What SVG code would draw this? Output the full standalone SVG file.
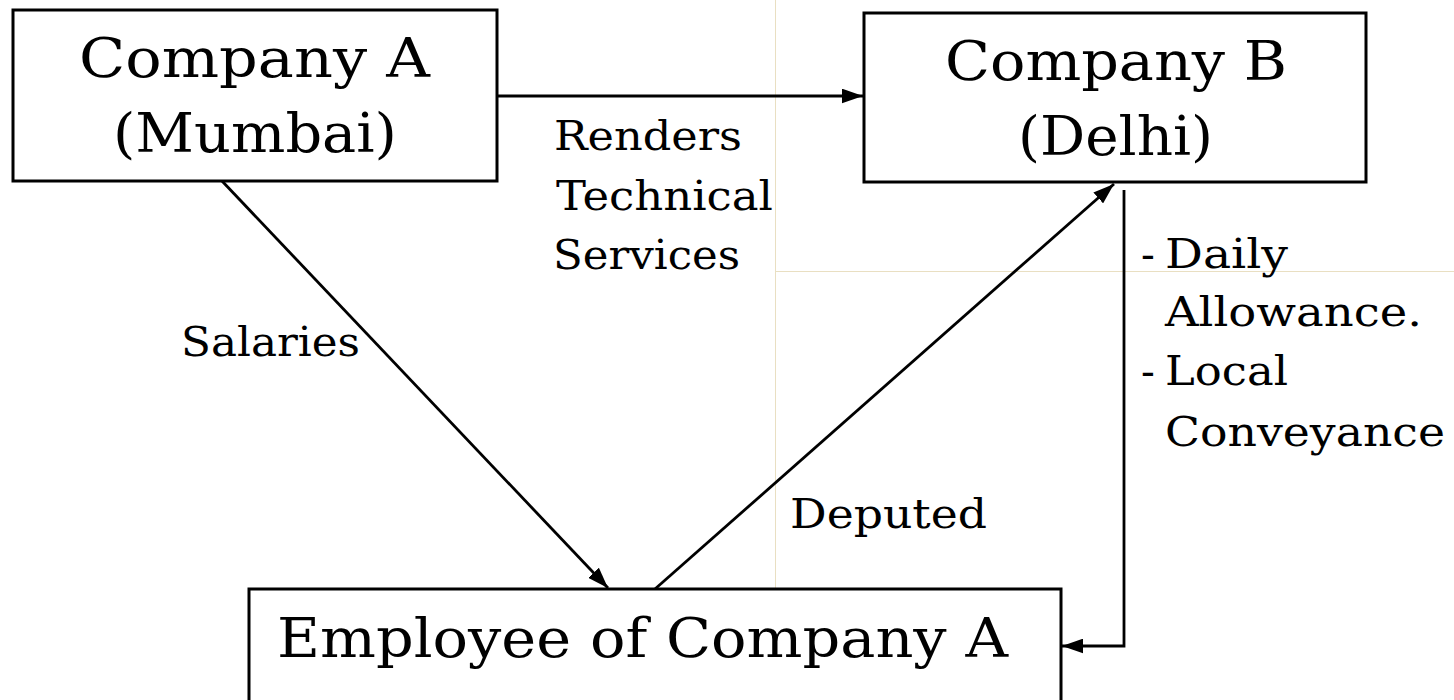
<svg xmlns="http://www.w3.org/2000/svg" width="1454" height="700" viewBox="0 0 1454 700">
<style>
.box{fill:#fff;stroke:#000;stroke-width:3}
.t{font-family:"DejaVu Serif","Liberation Serif",serif;fill:#000}
.big{font-size:54px}
.lbl{font-size:41px}
.con{stroke:#000;stroke-width:2.8;fill:none}
.guide{stroke:#e9dfc2;stroke-width:1}
</style>
<defs>
<marker id="ah" viewBox="0 0 20 14" refX="20" refY="7" markerWidth="21" markerHeight="15" markerUnits="userSpaceOnUse" orient="auto">
<path d="M0,0 L20,7 L0,14 Z" fill="#000"/>
</marker>
</defs>
<rect width="1454" height="700" fill="#fff"/>
<g id="guides">
<line class="guide" x1="775.5" y1="0" x2="775.5" y2="700"/>
<line class="guide" x1="776" y1="271.5" x2="1454" y2="271.5"/>
</g>
<g id="companyA">
<rect class="box" x="13" y="10" width="484" height="171"/>
<text class="t big" x="79" y="77" textLength="351" lengthAdjust="spacingAndGlyphs">Company A</text>
<text class="t big" x="113" y="152" textLength="284" lengthAdjust="spacingAndGlyphs">(Mumbai)</text>
</g>
<g id="companyB">
<rect class="box" x="864" y="13" width="502" height="169"/>
<text class="t big" x="945" y="80" textLength="342" lengthAdjust="spacingAndGlyphs">Company B</text>
<text class="t big" x="1018" y="155" textLength="195" lengthAdjust="spacingAndGlyphs">(Delhi)</text>
</g>
<g id="employee">
<rect class="box" x="249" y="589" width="812" height="130"/>
<text class="t big" x="277" y="657" textLength="731" lengthAdjust="spacingAndGlyphs">Employee of Company A</text>
</g>
<g id="connectors">
<line class="con" x1="497" y1="96" x2="863" y2="96" marker-end="url(#ah)"/>
<line class="con" x1="222" y1="181" x2="608" y2="588" marker-end="url(#ah)"/>
<line class="con" x1="655" y1="589" x2="1114" y2="184" marker-end="url(#ah)"/>
<polyline class="con" points="1124,190 1124,646 1062,646" marker-end="url(#ah)"/>
</g>
<g id="labels">
<text class="t lbl" x="554" y="150" textLength="188" lengthAdjust="spacingAndGlyphs">Renders</text>
<text class="t lbl" x="556" y="210" textLength="217" lengthAdjust="spacingAndGlyphs">Technical</text>
<text class="t lbl" x="553" y="269" textLength="187" lengthAdjust="spacingAndGlyphs">Services</text>
<text class="t lbl" x="181" y="356" textLength="179" lengthAdjust="spacingAndGlyphs">Salaries</text>
<text class="t lbl" x="790" y="528" textLength="197" lengthAdjust="spacingAndGlyphs">Deputed</text>
<text class="t lbl" x="1141" y="268">-</text>
<text class="t lbl" x="1165" y="268" textLength="123" lengthAdjust="spacingAndGlyphs">Daily</text>
<text class="t lbl" x="1165" y="326" textLength="257" lengthAdjust="spacingAndGlyphs">Allowance.</text>
<text class="t lbl" x="1141" y="385">-</text>
<text class="t lbl" x="1165" y="385" textLength="123" lengthAdjust="spacingAndGlyphs">Local</text>
<text class="t lbl" x="1165" y="446" textLength="280" lengthAdjust="spacingAndGlyphs">Conveyance</text>
</g>
</svg>
